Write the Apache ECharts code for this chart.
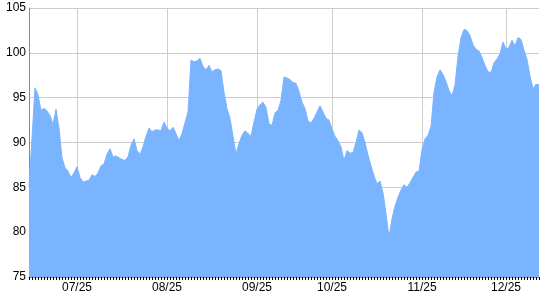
<!DOCTYPE html>
<html>
<head>
<meta charset="utf-8">
<script src="https://cdn.jsdelivr.net/npm/echarts@6/dist/echarts.min.js"></script>
<style>html,body{margin:0;padding:0;background:#fff}#c{width:540px;height:300px}</style>
</head>
<body>
<div id="c"></div>
<script>
const values = [
85.0,90.5,96.1,95.3,93.6,93.8,93.5,93.0,92.0,93.7,
91.6,88.3,87.2,86.8,86.1,86.6,87.3,86.1,85.6,85.7,
85.8,86.4,86.2,86.6,87.4,87.6,88.7,89.3,88.4,88.5,
88.3,88.1,88.0,88.4,89.7,90.4,89.1,88.7,89.5,90.7,
91.6,91.2,91.4,91.4,91.3,92.3,91.6,91.3,91.7,91.0,
90.2,91.0,92.2,93.4,99.2,99.0,99.1,99.4,98.5,98.1,
98.6,97.9,98.1,98.2,98.0,95.6,93.8,92.7,90.7,88.7,
89.9,90.8,91.3,91.0,90.7,92.3,93.7,94.2,94.5,93.9,
92.1,91.9,93.3,93.6,94.7,97.3,97.2,97.0,96.7,96.6,
95.7,94.5,93.8,92.4,92.2,92.7,93.4,94.1,93.4,92.7,
92.5,91.5,90.7,90.2,89.5,88.0,89.1,88.8,88.9,90.0,
91.4,91.1,90.0,88.6,87.4,86.3,85.4,85.7,84.4,82.1,
79.4,81.5,82.9,83.9,84.7,85.3,85.0,85.5,86.1,86.7,
86.8,89.2,90.4,90.8,91.8,95.6,97.3,98.1,97.6,96.8,
95.8,95.2,96.4,99.6,101.7,102.6,102.5,101.9,100.9,100.4,
100.2,99.5,98.6,97.9,97.8,98.9,99.3,99.9,101.2,100.4,
100.6,101.4,100.8,101.7,101.5,100.3,99.3,97.4,96.0,96.5,
96.4
];
const categories = values.map((v, i) => String(i));
const tickPositions = [16, 46, 76, 101, 131, 159];
const tickLabels = ['07/25', '08/25', '09/25', '10/25', '11/25', '12/25'];
const yMin = 75, yMax = 105, yStep = 5;

const isTick = (idx) => tickPositions.indexOf(idx) >= 0;
const chart = echarts.init(document.getElementById('c'), null, {renderer: 'canvas'});
chart.setOption({
  animation: false,
  grid: {left: 29, right: 1, top: 8, bottom: 23, containLabel: false},
  xAxis: {
    type: 'category',
    data: categories,
    boundaryGap: false,
    axisLine: {show: true, lineStyle: {color: '#888', width: 1}},
    axisTick: {show: true, interval: 0, length: 3, lineStyle: {color: '#000'}},
    axisLabel: {
      show: true,
      interval: (idx) => isTick(idx),
      formatter: (val, idx) => { const k = tickPositions.indexOf(Number(val)); return k >= 0 ? tickLabels[k] : ''; },
      color: '#000', fontFamily: 'Liberation Sans, Arial, sans-serif', fontSize: 12, margin: 5
    },
    splitLine: {show: true, interval: (idx) => isTick(idx), lineStyle: {color: '#cccccc', width: 1}}
  },
  yAxis: {
    type: 'value', min: yMin, max: yMax, interval: yStep,
    axisLine: {show: true, lineStyle: {color: '#888', width: 1}},
    axisTick: {show: false},
    axisLabel: {color: '#000', fontFamily: 'Liberation Sans, Arial, sans-serif', fontSize: 12, margin: 3},
    splitLine: {show: true, lineStyle: {color: '#cccccc', width: 1}}
  },
  series: [{
    type: 'line',
    data: values,
    symbol: 'none',
    smooth: false,
    lineStyle: {color: '#7ab4ff', width: 1},
    areaStyle: {color: '#7ab4ff', opacity: 1},
    itemStyle: {color: '#7ab4ff'}
  }]
});
</script>
</body>
</html>
